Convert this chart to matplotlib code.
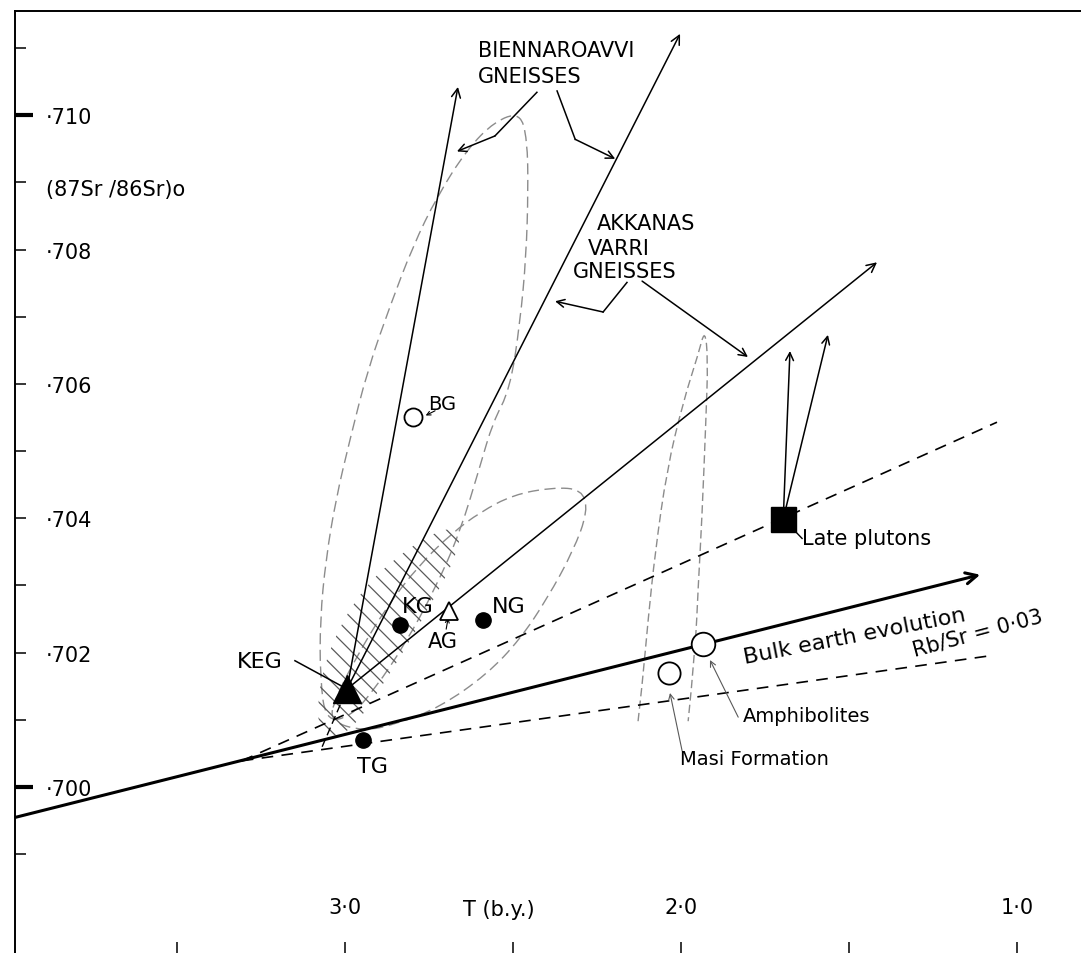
import numpy as np
import matplotlib.pyplot as plt
from matplotlib.path import Path
from matplotlib.patches import PathPatch

plt.rcParams['font.family'] = ['DejaVu Sans']
plt.rcParams['hatch.linewidth'] = 0.9

# age T (b.y.) and initial 87Sr/86Sr
bulk_T = [3.98, 1.11]
bulk_R = [0.69955, 0.70316]

conv_T, conv_R = 3.307, 0.70039
dash_end_T = [1.060, 1.086]
dash_end_R = [0.70543, 0.70195]

keg_T, keg_R = 2.994, 0.70146
keg_tail_T, keg_tail_R = 3.068, 0.70060
keg_tip_T = [2.664, 2.003, 1.417]
keg_tip_R = [0.71042, 0.71121, 0.70781]

lp_T, lp_R = 1.696, 0.70399
lp_tip_T = [1.676, 1.563]
lp_tip_R = [0.70649, 0.70673]

filled_names = ['KG', 'NG', 'TG']
filled_T = [2.836, 2.589, 2.946]
filled_R = [0.70241, 0.70249, 0.70070]

ag_T, ag_R = 2.690, 0.70262

open_names = ['BG', 'Amphibolites', 'Masi Formation']
open_T = [2.798, 1.935, 2.036]
open_R = [0.70551, 0.70213, 0.70170]

# outlines of the gneiss fields
bien_T = [3.057, 3.074, 3.074, 3.057, 3.027, 2.985, 2.932, 2.866, 2.798, 2.726, 2.637, 2.554, 2.479,
          2.458, 2.455, 2.461, 2.479, 2.509, 2.560, 2.598, 2.658, 2.732, 2.821, 2.911, 2.985]
bien_R = [0.70098, 0.70161, 0.70250, 0.70339, 0.70429, 0.70518, 0.70622, 0.70716, 0.70805, 0.70879,
          0.70949, 0.70991, 0.71004, 0.70964, 0.70890, 0.70790, 0.70692, 0.70592, 0.70543, 0.70478,
          0.70379, 0.70295, 0.70213, 0.70146, 0.70104]
akk_T = [3.045, 2.946, 2.845, 2.717, 2.577, 2.479, 2.399, 2.321, 2.277, 2.295, 2.381, 2.500, 2.598,
         2.679, 2.777, 2.881, 2.970, 3.030]
akk_R = [0.70098, 0.70083, 0.70094, 0.70119, 0.70168, 0.70220, 0.70280, 0.70351, 0.70411, 0.70443,
         0.70446, 0.70435, 0.70409, 0.70379, 0.70332, 0.70265, 0.70190, 0.70131]
hatch_T = [3.080, 3.080, 3.036, 2.949, 2.836, 2.717, 2.652, 2.673, 2.741, 2.818, 2.896, 2.955, 3.015]
hatch_R = [0.70079, 0.70146, 0.70220, 0.70295, 0.70347, 0.70384, 0.70384, 0.70339, 0.70275, 0.70208,
           0.70146, 0.70101, 0.70074]
masi_T = [2.128, 2.116, 2.098, 2.077, 2.042, 1.994, 1.949, 1.929, 1.920, 1.926, 1.938, 1.949, 1.958, 1.979]
masi_R = [0.70098, 0.70150, 0.70250, 0.70350, 0.70473, 0.70573, 0.70644, 0.70682, 0.70637, 0.70548,
          0.70399, 0.70299, 0.70201, 0.70098]

y_ticks = [0.699, 0.700, 0.701, 0.702, 0.703, 0.704, 0.705, 0.706, 0.707, 0.708, 0.709, 0.710, 0.711]
y_labels = ['', '·700', '', '·702', '', '·704', '', '·706', '', '·708', '', '·710', '']
x_ticks = [3.5, 3.0, 2.5, 2.0, 1.5, 1.0]
x_labels = ['', '3·0', '', '2·0', '', '1·0']


def smooth_path(T, R, closed=True):
    p = np.column_stack([T, R])
    if closed:
        m = (p + np.roll(p, -1, axis=0)) / 2
        verts = [m[-1]]
        for i in range(len(p)):
            verts += [p[i], m[i]]
        codes = [Path.MOVETO] + [Path.CURVE3] * (2 * len(p))
    else:
        verts = [p[0]]
        for i in range(1, len(p) - 1):
            end = p[i + 1] if i == len(p) - 2 else (p[i] + p[i + 1]) / 2
            verts += [p[i], end]
        codes = [Path.MOVETO] + [Path.CURVE3] * (2 * (len(p) - 2))
    return Path(verts, codes)


def arrow(ax, start, end, lw=1.0, color='k', ms=14):
    ax.annotate('', xy=end, xytext=start,
                arrowprops=dict(arrowstyle='->', lw=lw, color=color, shrinkA=0, shrinkB=0,
                                mutation_scale=ms))


fig = plt.figure(figsize=(10.81, 9.54), dpi=100)
ax = fig.add_axes([15 / 1081, 0, 1066 / 1081, 942 / 954])
ax.set_xlim(3.982, 0.810)
ax.set_ylim(0.69753, 0.71155)
for s in ['right', 'bottom']:
    ax.spines[s].set_visible(False)
ax.spines['top'].set_linewidth(1.4)
ax.spines['left'].set_linewidth(1.4)

ax.set_yticks(y_ticks)
ax.set_yticklabels(y_labels, ha='left')
ax.tick_params(axis='y', direction='in', length=8, width=1.1, pad=-22, labelsize=15)
for v, t in zip(y_ticks, ax.yaxis.get_major_ticks()):
    if v in (0.700, 0.710):
        t.tick1line.set_markersize(13)
        t.tick1line.set_markeredgewidth(3)
ax.set_xticks(x_ticks)
ax.set_xticklabels(x_labels)
ax.tick_params(axis='x', direction='in', length=8, width=1.1, pad=-40, labelsize=15)

gray = '0.55'
ax.add_patch(PathPatch(smooth_path(bien_T, bien_R), fill=False, ec=gray, lw=1.0, ls=(0, (8, 4))))
ax.add_patch(PathPatch(smooth_path(akk_T, akk_R), fill=False, ec=gray, lw=1.0, ls=(0, (8, 4))))
ax.add_patch(PathPatch(smooth_path(masi_T, masi_R, closed=False), fill=False, ec=gray, lw=1.0,
                       ls=(0, (6, 3))))
ax.add_patch(PathPatch(smooth_path(hatch_T, hatch_R), fc='none', ec='0.35', lw=0, hatch='\\\\'))

# Rb/Sr growth lines from the bulk earth curve
for t, r in zip(dash_end_T, dash_end_R):
    ax.plot([conv_T, t], [conv_R, r], color='k', lw=1.2, ls=(0, (7, 5)))

# bulk earth evolution
arrow(ax, (bulk_T[0], bulk_R[0]), (bulk_T[1], bulk_R[1]), lw=2.2, ms=20)

# KEG growth arrows
ax.plot([keg_tail_T, keg_T], [keg_tail_R, keg_R], color='k', lw=1.0, ls=(0, (6, 3)))
for t, r in zip(keg_tip_T, keg_tip_R):
    arrow(ax, (keg_T, keg_R), (t, r), lw=1.1, ms=16)
for t, r in zip(lp_tip_T, lp_tip_R):
    arrow(ax, (lp_T, lp_R), (t, r), lw=1.1, ms=14)

# leaders
ax.plot([2.429, 2.554], [0.71034, 0.70969], color='k', lw=1.1)
arrow(ax, (2.554, 0.70969), (2.667, 0.70946), lw=1.1, ms=14)
ax.plot([2.369, 2.315], [0.71036, 0.70964], color='k', lw=1.1)
arrow(ax, (2.315, 0.70964), (2.196, 0.70935), lw=1.1, ms=14)
ax.plot([2.161, 2.232], [0.70751, 0.70707], color='k', lw=1.1)
arrow(ax, (2.232, 0.70707), (2.375, 0.70723), lw=1.1, ms=14)
arrow(ax, (2.116, 0.70753), (1.801, 0.70640), lw=1.1, ms=14)
ax.plot([3.149, 3.009], [0.70188, 0.70150], color='k', lw=1.1)
arrow(ax, (2.699, 0.70235), (2.693, 0.70252), lw=0.8, ms=7)
arrow(ax, (2.732, 0.70560), (2.760, 0.70553), lw=0.8, ms=7)
ax.plot([1.661, 1.640], [0.70381, 0.70370], color='k', lw=1.0)
arrow(ax, (1.830, 0.70104), (1.914, 0.70189), lw=0.8, color='0.35', ms=10)
arrow(ax, (1.997, 0.70054), (2.033, 0.70140), lw=0.8, color='0.35', ms=10)

# symbols
ax.plot(keg_T, keg_R, '^', ms=20, color='k', zorder=5)
ax.plot(filled_T, filled_R, 'o', ms=11, color='k', ls='none', zorder=5)
ax.plot(ag_T, ag_R, '^', ms=13, mfc='white', mec='k', mew=1.3, zorder=5)
for t, r, s in zip(open_T, open_R, [13, 17, 16]):
    ax.plot(t, r, 'o', ms=s, mfc='white', mec='k', mew=1.3, zorder=5)
ax.plot(lp_T, lp_R, 's', ms=18, color='k', zorder=5)

# labels
fs = 15
ax.text(3.89, 0.70890, '(87Sr /86Sr)o', fontsize=fs, va='center', ha='left')
ax.text(2.649, 0.69818, 'T (b.y.)', fontsize=fs, va='center', ha='left')
ax.text(2.604, 0.71088, 'BIENNAROAVVI', fontsize=fs)
ax.text(2.604, 0.71049, 'GNEISSES', fontsize=fs)
ax.text(2.250, 0.70830, 'AKKANAS', fontsize=fs)
ax.text(2.277, 0.70793, 'VARRI', fontsize=fs)
ax.text(2.321, 0.70759, 'GNEISSES', fontsize=fs)
ax.text(3.321, 0.70179, 'KEG', fontsize=16)
ax.text(2.830, 0.70260, filled_names[0], fontsize=16)
ax.text(2.563, 0.70260, filled_names[1], fontsize=16)
ax.text(2.964, 0.70022, filled_names[2], fontsize=16)
ax.text(2.753, 0.70208, 'AG', fontsize=15)
ax.text(2.753, 0.70562, open_names[0], fontsize=14)
ax.text(1.815, 0.70098, open_names[1], fontsize=14)
ax.text(2.003, 0.70034, open_names[2], fontsize=14)
ax.text(1.640, 0.70362, 'Late plutons', fontsize=15)
ax.text(1.810, 0.70184, 'Bulk earth evolution', fontsize=16, rotation=11,
        rotation_mode='anchor', ha='left', va='baseline')
ax.text(1.304, 0.70196, 'Rb/Sr = 0·03', fontsize=15, rotation=15,
        rotation_mode='anchor', ha='left', va='baseline')

fig.savefig('out.png', dpi=100)
